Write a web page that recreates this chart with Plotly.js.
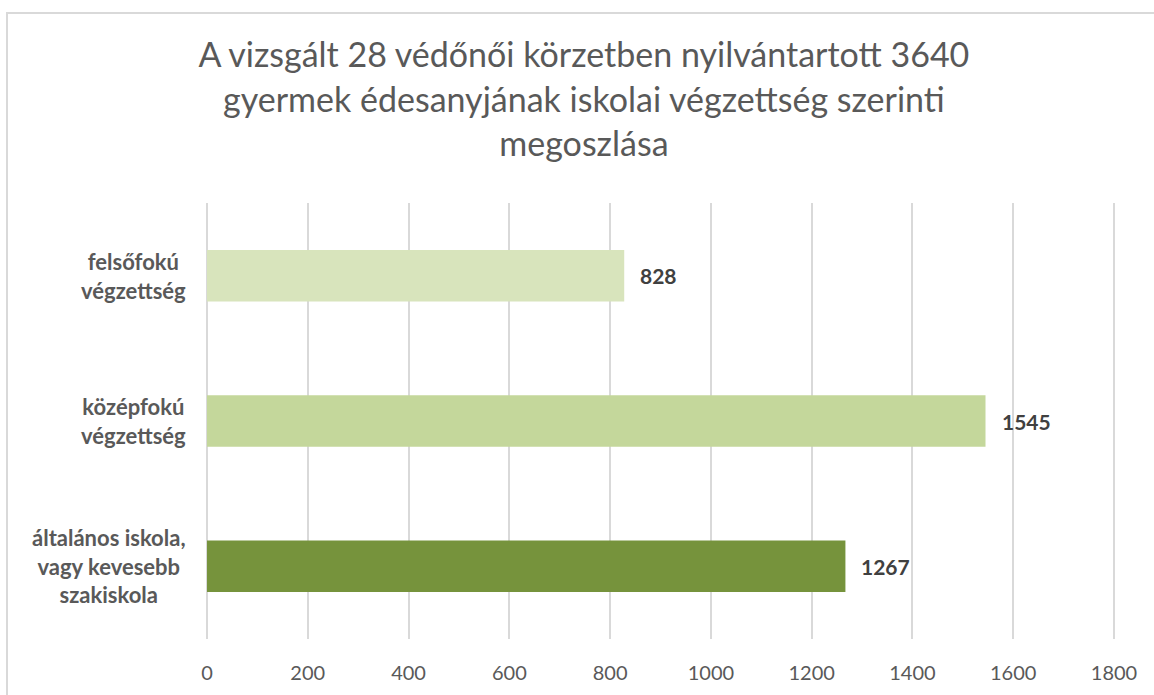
<!DOCTYPE html>
<html>
<head>
<meta charset="utf-8">
<script src="https://cdn.plot.ly/plotly-3.0.1.min.js"></script>
<style>
  html, body { margin: 0; padding: 0; background: #ffffff; }
  #wrap { position: relative; width: 1154px; height: 695px; overflow: hidden; }
  #chart { width: 1154px; height: 695px; }
  #frame { position: absolute; left: 6px; top: 12px; width: 1160px; height: 700px;
           border: 2px solid #d9d9d9; pointer-events: none; box-sizing: border-box; }
</style>
</head>
<body>
<div id="wrap">
  <div id="chart"></div>
  <div id="frame"></div>
</div>
<script>
// Data (top to bottom as shown)
const categories = ["felsőfokú<br>végzettség", "középfokú<br>végzettség", "általános iskola,<br>vagy kevesebb<br>szakiskola"];
const values = [828, 1545, 1267];
const barColors = ["#d8e4bc", "#c4d79b", "#76933c"];
const tickValues = [0, 200, 400, 600, 800, 1000, 1200, 1400, 1600, 1800];
const titleText = "A vizsgált 28 védőnői körzetben nyilvántartott 3640<br>gyermek édesanyjának iskolai végzettség szerinti<br>megoszlása";

const FONT = "Lato, 'Open Sans', sans-serif";

const trace = {
  type: "bar",
  orientation: "h",
  x: values,
  y: categories,
  marker: { color: barColors },
  width: 0.354,
  hoverinfo: "x+y"
};

const annotations = [];
categories.forEach((c, i) => {
  annotations.push({
    xref: "paper", yref: "y", x: 0, y: c,
    xanchor: "right", yanchor: "middle", xshift: -18,
    text: "<b>" + c + "</b>", align: "center", showarrow: false,
    font: { family: FONT, size: 22, color: "#595959" }
  });
  annotations.push({
    xref: "x", yref: "y", x: values[i], y: c,
    xanchor: "left", yanchor: "middle", xshift: 14,
    text: "<b>" + values[i] + "</b>", showarrow: false,
    font: { family: FONT, size: 21, color: "#404040" }
  });
});

const layout = {
  width: 1154, height: 695,
  paper_bgcolor: "#ffffff", plot_bgcolor: "#ffffff",
  margin: { l: 206, r: 39, t: 203, b: 56 },
  showlegend: false,
  title: {
    text: titleText,
    font: { family: FONT, size: 34, color: "#595959" },
    xref: "container", x: 0.506, xanchor: "center",
    yref: "container", y: 0.903, yanchor: "top"
  },
  xaxis: {
    range: [-2, 1802],
    tickvals: tickValues,
    ticktext: tickValues.map(String),
    showgrid: true, gridcolor: "#d9d9d9", gridwidth: 2,
    zeroline: false, showline: false, ticks: "",
    tickfont: { family: FONT, size: 20, color: "#595959" },
    ticklabelstandoff: 20
  },
  yaxis: {
    type: "category",
    categoryorder: "array", categoryarray: categories,
    range: [2.5, -0.5],
    showticklabels: false, showgrid: false, zeroline: false, showline: false, ticks: ""
  },
  annotations: annotations
};

Plotly.newPlot("chart", [trace], layout, { displayModeBar: false, staticPlot: true });
</script>
</body>
</html>
